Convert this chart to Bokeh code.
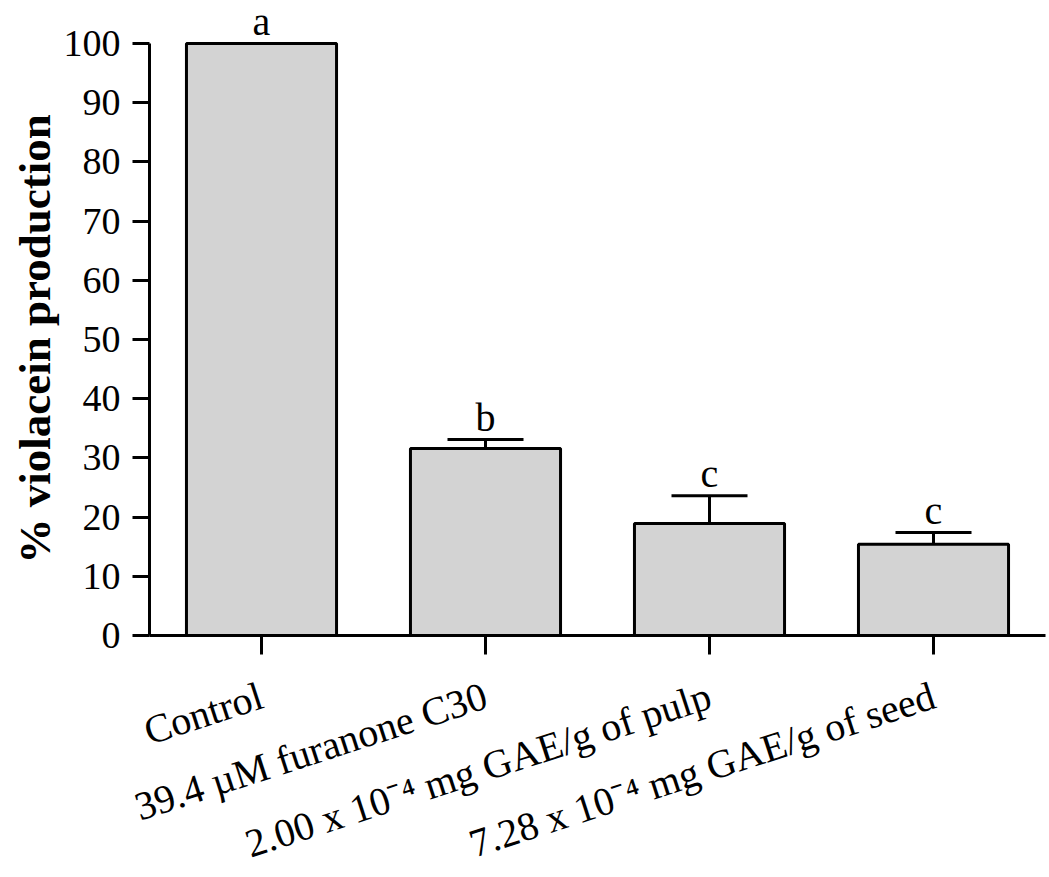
from bokeh.plotting import figure
from bokeh.models import (FactorRange, Range1d, ColumnDataSource, Whisker, TeeHead,
                          FixedTicker, Title)
from bokeh.core.properties import value
from bokeh.embed import file_html
from bokeh.resources import INLINE

# ---- data ----
categories = [
    "Control",
    "39.4 \u00b5M furanone C30",
    "2.00 x 10\u207b\u2074 mg GAE/g of pulp",
    "7.28 x 10\u207b\u2074 mg GAE/g of seed",
]
values = [100.0, 31.6, 18.9, 15.4]
errors = [0.0, 1.5, 4.7, 2.0]
letters = ["a", "b", "c", "c"]
y_ticks = [0, 10, 20, 30, 40, 50, 60, 70, 80, 90, 100]
y_label = "% violacein production"

FONT = "Liberation Serif"

uppers = [v + e for v, e in zip(values, errors)]
src = ColumnDataSource(dict(cat=categories, val=values, up=uppers, lab=letters))
err_idx = [i for i, e in enumerate(errors) if e > 0]
err_src = ColumnDataSource(dict(
    cat=[categories[i] for i in err_idx],
    lo=[values[i] for i in err_idx],
    up=[uppers[i] for i in err_idx],
))

p = figure(
    x_range=FactorRange(factors=categories, range_padding=0),
    y_range=Range1d(0, 107.26),
    frame_width=896, frame_height=635,
    min_border_left=149, min_border_right=4, min_border_top=0, min_border_bottom=0,
    output_backend="svg", toolbar_location=None,
    background_fill_color="white", border_fill_color="white",
)
p.outline_line_color = None
p.xgrid.visible = False
p.ygrid.visible = False

p.vbar(x="cat", top="val", width=0.67, source=src,
       fill_color="#d3d3d3", line_color="black", line_width=3)

w = Whisker(source=err_src, base="cat", lower="lo", upper="up", dimension="height",
            line_color="black", line_width=3,
            upper_head=TeeHead(size=76, line_color="black", line_width=3),
            lower_head=None)
p.add_layout(w)

p.text(x="cat", y="up", text="lab", source=src, text_align="center",
       text_baseline="alphabetic", y_offset=-22,
       text_font=value(FONT), text_font_size="40px", text_color="black")

# y axis title (side title so it can be centred on the 0-100 span)
p.add_layout(Title(text=y_label, align="left", offset=72, vertical_align="middle",
                   text_font=FONT, text_font_style="bold", text_font_size="45px",
                   text_color="black", standoff=0), "left")

# y axis
ya = p.yaxis[0]
ya.ticker = FixedTicker(ticks=y_ticks)
ya.bounds = (0, 100)
ya.axis_line_width = 3
ya.axis_line_color = "black"
ya.major_tick_line_width = 3
ya.major_tick_out = 17
ya.major_tick_in = 0
ya.minor_tick_line_color = None
ya.major_label_text_font = FONT
ya.major_label_text_font_size = "38px"
ya.major_label_text_color = "black"
ya.major_label_standoff = 12

# x axis
xa = p.xaxis[0]
xa.axis_line_width = 3
xa.axis_line_color = "black"
xa.major_tick_line_width = 3
xa.major_tick_out = 19
xa.major_tick_in = 0
xa.minor_tick_line_color = None
xa.major_label_orientation = 0.314
xa.major_label_text_font = FONT
xa.major_label_text_font_size = "40px"
xa.major_label_text_color = "black"
xa.major_label_standoff = 40

open("out.html", "w").write(file_html(p, INLINE))
